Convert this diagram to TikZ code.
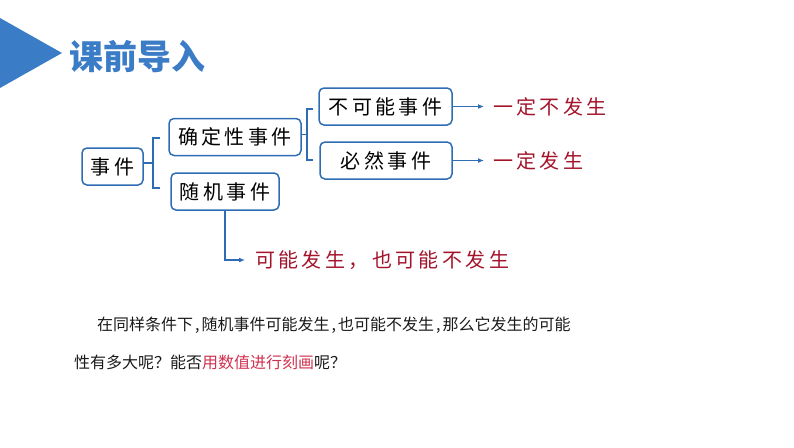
\documentclass[tikz,border=0pt]{standalone}
\usepackage{fontspec}
\setmainfont{Noto Sans CJK SC}
\newfontfamily\cjkls[LetterSpace=17]{Noto Sans CJK SC}
\usetikzlibrary{arrows.meta}
\definecolor{tblue}{HTML}{3B7CC6}
\definecolor{lblue}{HTML}{2E6DB4}
\definecolor{dred}{HTML}{A3142B}
\definecolor{pred}{HTML}{D0304F}
\definecolor{txt}{HTML}{1A1A1A}
\newcommand{\cm}{\hspace{2pt},\hspace{2pt}}
\tikzset{
  evbox/.style={draw=lblue, line width=1.5pt, rounded corners=5pt, minimum height=37pt,
    inner sep=0pt, font=\cjkls\fontsize{20}{20}\selectfont, text=black},
  brk/.style={draw=lblue, line width=1.4pt},
  arr/.style={draw=lblue, line width=1.4pt, -{Latex[length=6pt,width=5pt]}},
  res/.style={anchor=west, inner sep=0pt, text=dred, font=\cjkls\fontsize{20}{20}\selectfont},
  para/.style={anchor=west, inner sep=0pt, text=txt, font=\fontsize{16}{16}\selectfont}
}
\begin{document}
\begin{tikzpicture}[x=1pt,y=-1pt]
\useasboundingbox (0,0) rectangle (794,447);
% header
\fill[tblue] (0,18) -- (62,53) -- (0,88) -- cycle;
\node[anchor=west, inner sep=0pt, text=tblue, font=\bfseries\fontsize{34}{34}\selectfont] (title) at (69,57) {课前导入};
% boxes
\node[evbox, minimum width=61pt] (e) at (112.5,166.5) {事件};
\node[evbox, minimum width=132pt] (q) at (235,137) {确定性事件};
\node[evbox, minimum width=108pt] (s) at (225,191.5) {随机事件};
\node[evbox, minimum width=133pt] (b) at (385.5,106.5) {不可能事件};
\node[evbox, minimum width=132pt] (m) at (386,160.5) {必然事件};
% bracket 1
\coordinate (k1t) at (160,138);
\coordinate (k1b) at (160,188);
\coordinate (k1m) at (153,163);
\draw[brk] (k1t) -- (153,138) -- (153,188) -- (k1b);
\draw[brk] (e.east |- k1m) -- (k1m);
% bracket 2
\coordinate (k2t) at (313,109);
\coordinate (k2b) at (313,160);
\coordinate (k2m) at (307,134.5);
\draw[brk] (k2t) -- (307,109) -- (307,160) -- (k2b);
\draw[brk] (q.east |- k2m) -- (k2m);
% results
\node[res] (r1) at (493,106.5) {一定不发生};
\node[res] (r2) at (493,160.5) {一定发生};
\node[res] (r3) at (255,260) {可能发生，也可能不发生};
\coordinate (a1) at (484,106.5);
\coordinate (a2) at (484,160.5);
\coordinate (c3) at (225,260);
\coordinate (a3) at (245,260);
\draw[arr] (b.east) -- (a1);
\draw[arr] (m.east) -- (a2);
\draw[arr] (s.south -| c3) -- (c3) -- (a3);
% paragraph
\node[para] (p1) at (97,325) {在同样条件下\cm 随机事件可能发生\cm 也可能不发生\cm 那么它发生的可能};
\node[para] (p2) at (74,362) {性有多大呢？能否\textcolor{pred}{用数值进行刻画}呢？};
\end{tikzpicture}
\end{document}
